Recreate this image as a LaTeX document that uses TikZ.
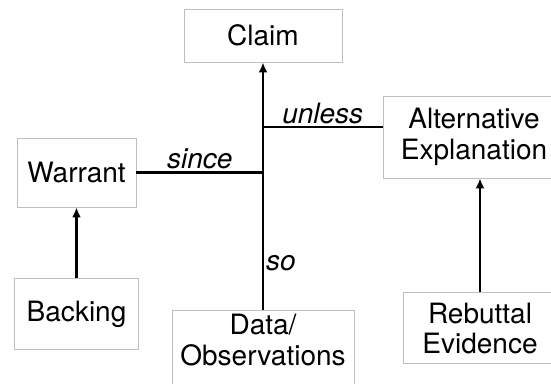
\documentclass[tikz,border=0pt]{standalone}
\usepackage{fontspec}
\setmainfont{TeX Gyre Heros}
\usetikzlibrary{arrows.meta, positioning}

\begin{document}
\begin{tikzpicture}[x=1pt,y=1pt,font=\fontsize{28}{30.5}\selectfont,
	>={Latex[length=10pt,width=9pt]},line width=2.4pt]

	\tikzset{box st/.style={draw=gray!50, line width=0.9pt,
			align=center, inner sep=0pt}}
	\tikzset{link lbl/.style={font=\fontsize{28}{30}\selectfont\itshape,
			inner sep=2pt}}

	\useasboundingbox (0,0) rectangle (551,383);

	\node[box st, minimum width=158pt, minimum height=53pt] (claim) at (263,347.5) {Claim};
	\node[box st, minimum width=119pt, minimum height=69pt] (warrant) at (76.5,210.5) {Warrant};
	\node[box st, minimum width=124pt, minimum height=71pt, below=71pt of warrant] (backing) {Backing};
	\node[box st, minimum width=182pt, minimum height=82pt] (alt) at (474,246) {Alternative\\Explanation};
	\node[box st, minimum width=154pt, minimum height=71pt, below=114pt of alt, xshift=6pt] (rebuttal) {Rebuttal\\Evidence};
	\node[box st, minimum width=182pt, inner ysep=4pt, anchor=north] (data) at (263,73) {Data/\\Observations\\~};

	% junctions on the main line
	\coordinate (since j) at (data.north |- warrant.east);
	\coordinate (alt in) at ([yshift=10pt]alt.west);
	\coordinate (unless j) at (data.north |- alt in);

	\draw[->] (data) -- node[link lbl, pos=0.19, right] {so} (claim);
	\draw (warrant) -- node[link lbl, above] {since} (since j);
	\draw (unless j) -- node[link lbl, above] {unless} (alt in);
	\draw[->] (backing.north) -- (backing.north |- warrant.south);
	\draw[->] (rebuttal.north) -- (rebuttal.north |- alt.south);

\end{tikzpicture}
\end{document}
